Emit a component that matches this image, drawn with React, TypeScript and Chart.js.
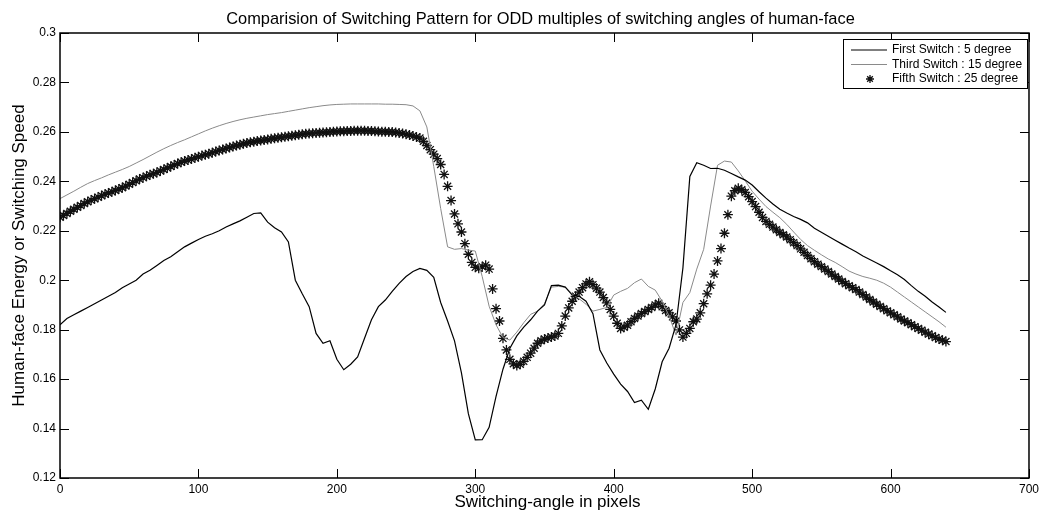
import React, { useEffect, useRef } from "react";
import { Chart, registerables } from "chart.js";

Chart.register(...registerables);

const TITLE = "Comparision of Switching Pattern for ODD multiples of switching angles of human-face";
const X_TITLE = "Switching-angle in pixels";
const Y_TITLE = "Human-face Energy or Switching Speed";
const LEGEND_LABELS = ["First Switch : 5 degree", "Third Switch : 15 degree", "Fifth Switch : 25 degree"];

const XS = [
  0, 5, 10, 15, 20, 25, 30, 35, 40, 45, 50, 55, 60, 65, 70, 75, 80, 85, 90, 95,
  100, 105, 110, 115, 120, 125, 130, 135, 140, 145, 150, 155, 160, 165, 170, 175, 180, 185, 190, 195,
  200, 205, 210, 215, 220, 225, 230, 235, 240, 245, 250, 255, 260, 265, 270, 275, 280, 285, 290, 295,
  300, 305, 310, 315, 320, 325, 330, 335, 340, 345, 350, 355, 360, 365, 370, 375, 380, 385, 390, 395,
  400, 405, 410, 415, 420, 425, 430, 435, 440, 445, 450, 455, 460, 465, 470, 475, 480, 485, 490, 495,
  500, 505, 510, 515, 520, 525, 530, 535, 540, 545, 550, 555, 560, 565, 570, 575, 580, 585, 590, 595,
  600, 605, 610, 615, 620, 625, 630, 635, 640,
];

const FIRST = [
  0.182, 0.1845, 0.186, 0.1875, 0.189, 0.1905, 0.192, 0.1935, 0.195, 0.197, 0.1985, 0.2, 0.2025, 0.204, 0.206, 0.208, 0.2095, 0.2115, 0.2135, 0.215,
  0.2165, 0.2178, 0.2188, 0.22, 0.2215, 0.2228, 0.224, 0.2255, 0.227, 0.2272, 0.2235, 0.2212, 0.2195, 0.2155, 0.2, 0.1945, 0.1893, 0.1785, 0.1745, 0.1755,
  0.168, 0.1638, 0.166, 0.169, 0.1765, 0.184, 0.1893, 0.192, 0.1955, 0.1987, 0.2015, 0.2035, 0.2048, 0.204, 0.2012, 0.191, 0.1835, 0.1755, 0.1625, 0.146,
  0.1354, 0.1355, 0.1405, 0.153, 0.164, 0.1725, 0.1775, 0.181, 0.184, 0.1875, 0.19, 0.1978, 0.198, 0.1972, 0.194, 0.1935, 0.1915, 0.1865, 0.1718, 0.1665,
  0.162, 0.158, 0.155, 0.1505, 0.1515, 0.1478, 0.156, 0.167, 0.1725, 0.182, 0.205, 0.242, 0.2475, 0.2465, 0.2452, 0.2453, 0.2445, 0.2432, 0.2418, 0.2405,
  0.2385, 0.2358, 0.2332, 0.2308, 0.2287, 0.2272, 0.2258, 0.2246, 0.2232, 0.221, 0.2194, 0.2178, 0.2162, 0.2146, 0.213, 0.2115, 0.2098, 0.2084, 0.207, 0.2055,
  0.2038, 0.2022, 0.2003, 0.1978, 0.1955, 0.1935, 0.1912, 0.1892, 0.187,
];

const THIRD = [
  0.233, 0.2345, 0.236, 0.2376, 0.2391, 0.2403, 0.2414, 0.2426, 0.2437, 0.2448, 0.246, 0.2474, 0.2488, 0.2503, 0.2518, 0.2532, 0.2545, 0.2557, 0.2568, 0.258,
  0.2592, 0.2604, 0.2615, 0.2625, 0.2634, 0.2642, 0.2649, 0.2655, 0.266, 0.2665, 0.267, 0.2674, 0.2678, 0.2683, 0.2688, 0.2693, 0.2698, 0.2702, 0.2706, 0.2709,
  0.2711, 0.2712, 0.2713, 0.2713, 0.2713, 0.2713, 0.2713, 0.2712, 0.2712, 0.2711, 0.271, 0.2705, 0.2685, 0.262, 0.246, 0.229, 0.2135, 0.2125, 0.2128, 0.2122,
  0.2118, 0.2015, 0.1895, 0.182, 0.1768, 0.1758, 0.179, 0.1828, 0.1862, 0.1875, 0.1905, 0.1972, 0.1975, 0.1972, 0.1945, 0.1925, 0.1903, 0.1875, 0.1882, 0.189,
  0.194, 0.1955, 0.1967, 0.199, 0.2005, 0.1975, 0.196, 0.1915, 0.1855, 0.1778, 0.191, 0.195, 0.2045, 0.2125, 0.23, 0.2465, 0.2482, 0.2478, 0.2442, 0.2402,
  0.236, 0.2328, 0.2298, 0.2275, 0.2253, 0.2226, 0.2195, 0.2165, 0.214, 0.2121, 0.2103, 0.2086, 0.2072, 0.2055, 0.2037, 0.2025, 0.2015, 0.2008, 0.2, 0.1988,
  0.1972, 0.1952, 0.1932, 0.1912, 0.1892, 0.1872, 0.1852, 0.1832, 0.181,
];

const X5 = [
  0, 2.5, 5, 7.5, 10, 12.5, 15, 17.5, 20, 22.5, 25, 27.5, 30, 32.5, 35, 37.5, 40, 42.5, 45, 47.5,
  50, 52.5, 55, 57.5, 60, 62.5, 65, 67.5, 70, 72.5, 75, 77.5, 80, 82.5, 85, 87.5, 90, 92.5, 95, 97.5,
  100, 102.5, 105, 107.5, 110, 112.5, 115, 117.5, 120, 122.5, 125, 127.5, 130, 132.5, 135, 137.5, 140, 142.5, 145, 147.5,
  150, 152.5, 155, 157.5, 160, 162.5, 165, 167.5, 170, 172.5, 175, 177.5, 180, 182.5, 185, 187.5, 190, 192.5, 195, 197.5,
  200, 202.5, 205, 207.5, 210, 212.5, 215, 217.5, 220, 222.5, 225, 227.5, 230, 232.5, 235, 237.5, 240, 242.5, 245, 247.5,
  250, 252.5, 255, 257.5, 260, 262.5, 265, 267.5, 270, 272.5, 275, 277.5, 280, 282.5, 285, 287.5, 290, 292.5, 295, 297.5,
  300, 302.5, 305, 307.5, 310, 312.5, 315, 317.5, 320, 322.5, 325, 327.5, 330, 332.5, 335, 337.5, 340, 342.5, 345, 347.5,
  350, 352.5, 355, 357.5, 360, 362.5, 365, 367.5, 370, 372.5, 375, 377.5, 380, 382.5, 385, 387.5, 390, 392.5, 395, 397.5,
  400, 402.5, 405, 407.5, 410, 412.5, 415, 417.5, 420, 422.5, 425, 427.5, 430, 432.5, 435, 437.5, 440, 442.5, 445, 447.5,
  450, 452.5, 455, 457.5, 460, 462.5, 465, 467.5, 470, 472.5, 475, 477.5, 480, 482.5, 485, 487.5, 490, 492.5, 495, 497.5,
  500, 502.5, 505, 507.5, 510, 512.5, 515, 517.5, 520, 522.5, 525, 527.5, 530, 532.5, 535, 537.5, 540, 542.5, 545, 547.5,
  550, 552.5, 555, 557.5, 560, 562.5, 565, 567.5, 570, 572.5, 575, 577.5, 580, 582.5, 585, 587.5, 590, 592.5, 595, 597.5,
  600, 602.5, 605, 607.5, 610, 612.5, 615, 617.5, 620, 622.5, 625, 627.5, 630, 632.5, 635, 637.5, 640,
];

const FIFTH = [
  0.2255, 0.2262, 0.227, 0.2279, 0.2287, 0.2295, 0.2302, 0.231, 0.2317, 0.2324, 0.233, 0.2336, 0.2342, 0.2348, 0.2353, 0.2358, 0.2363, 0.2369, 0.2374, 0.2381,
  0.2388, 0.2395, 0.2402, 0.2409, 0.2415, 0.2421, 0.2427, 0.2431, 0.2436, 0.2442, 0.2448, 0.2454, 0.246, 0.2466, 0.2472, 0.2477, 0.2482, 0.2486, 0.249, 0.2495,
  0.2499, 0.2504, 0.2508, 0.2512, 0.2516, 0.2521, 0.2525, 0.2529, 0.2533, 0.2537, 0.2541, 0.2545, 0.2548, 0.2552, 0.2555, 0.2558, 0.256, 0.2563, 0.2565, 0.2567,
  0.2569, 0.2572, 0.2574, 0.2576, 0.2578, 0.258, 0.2582, 0.2584, 0.2586, 0.2588, 0.259, 0.2592, 0.2593, 0.2595, 0.2596, 0.2597, 0.2598, 0.2599, 0.26, 0.2601,
  0.2602, 0.2603, 0.2603, 0.2604, 0.2604, 0.2605, 0.2605, 0.2605, 0.2605, 0.2604, 0.2604, 0.2603, 0.2602, 0.2601, 0.2601, 0.26, 0.26, 0.2598, 0.2596, 0.2593,
  0.259, 0.2587, 0.2583, 0.2579, 0.2575, 0.2562, 0.2545, 0.2528, 0.251, 0.2492, 0.2468, 0.2428, 0.238, 0.2322, 0.2268, 0.2228, 0.2195, 0.2148, 0.2105, 0.2072,
  0.2052, 0.2048, 0.2055, 0.2061, 0.2045, 0.1965, 0.1885, 0.1835, 0.1765, 0.1718, 0.168, 0.1662, 0.1655, 0.166, 0.1672, 0.1688, 0.1705, 0.1725, 0.1745, 0.1755,
  0.1762, 0.1766, 0.177, 0.1774, 0.1785, 0.1815, 0.1855, 0.1888, 0.1915, 0.1935, 0.1952, 0.197, 0.1985, 0.1994, 0.1982, 0.1968, 0.1952, 0.193, 0.1908, 0.1882,
  0.1855, 0.1826, 0.1805, 0.181, 0.1818, 0.1832, 0.1845, 0.1855, 0.1865, 0.1873, 0.1882, 0.189, 0.19, 0.1907, 0.1893, 0.1878, 0.1868, 0.1852, 0.1835, 0.1799,
  0.177, 0.1785, 0.1805, 0.1832, 0.1843, 0.1868, 0.1905, 0.1945, 0.198, 0.2025, 0.2078, 0.2128, 0.219, 0.2265, 0.234, 0.2362, 0.2372, 0.2366, 0.2355, 0.2338,
  0.2318, 0.2298, 0.2275, 0.2254, 0.2238, 0.2226, 0.2215, 0.2204, 0.2193, 0.2184, 0.2175, 0.2164, 0.2152, 0.214, 0.2127, 0.2113, 0.21, 0.2087, 0.2075, 0.2065,
  0.2055, 0.2045, 0.2035, 0.2025, 0.2015, 0.2005, 0.1995, 0.1986, 0.1978, 0.197, 0.1962, 0.1952, 0.1942, 0.1932, 0.1922, 0.1912, 0.1903, 0.1894, 0.1885, 0.1876,
  0.1868, 0.186, 0.1852, 0.1843, 0.1835, 0.1828, 0.182, 0.1812, 0.1805, 0.1798, 0.179, 0.1782, 0.1775, 0.1768, 0.1762, 0.1757, 0.1752,
];

const X_MIN = 0;
const X_MAX = 700;
const X_STEP = 100;
const Y_MIN = 0.12;
const Y_MAX = 0.3;
const Y_STEP = 0.02;

const FONT = "Arial, 'Liberation Sans', sans-serif";

const framePlugin = {
  id: "matlabFrame",
  afterDraw(chart: any) {
    const { ctx, chartArea } = chart;
    const { left, right, top, bottom } = chartArea;
    const xs = chart.scales.x;
    const ys = chart.scales.y;
    ctx.save();
    ctx.strokeStyle = "#000";
    ctx.lineWidth = 1.5;
    ctx.strokeRect(left, top, right - left, bottom - top);
    ctx.lineWidth = 1;
    const tl = 9;
    xs.ticks.forEach((t: any) => {
      const px = Math.round(xs.getPixelForValue(t.value)) + 0.5;
      ctx.beginPath();
      ctx.moveTo(px, bottom);
      ctx.lineTo(px, bottom - tl);
      ctx.moveTo(px, top);
      ctx.lineTo(px, top + tl);
      ctx.stroke();
    });
    ys.ticks.forEach((t: any) => {
      const py = Math.round(ys.getPixelForValue(t.value)) + 0.5;
      ctx.beginPath();
      ctx.moveTo(left, py);
      ctx.lineTo(left + tl, py);
      ctx.moveTo(right, py);
      ctx.lineTo(right - tl, py);
      ctx.stroke();
    });

    ctx.fillStyle = "#000";
    ctx.textAlign = "center";
    ctx.textBaseline = "alphabetic";
    ctx.font = `16.4px ${FONT}`;
    ctx.fillText(TITLE, (left + right) / 2 - 4, 24);
    ctx.font = `17px ${FONT}`;
    ctx.fillText(X_TITLE, (left + right) / 2 + 3, 507);
    ctx.save();
    ctx.translate(24, (top + bottom) / 2);
    ctx.rotate(-Math.PI / 2);
    ctx.fillText(Y_TITLE, 0, 0);
    ctx.restore();

    const lx = 843, ly = 39, lw = 184, lh = 49;
    ctx.fillStyle = "#fff";
    ctx.fillRect(lx, ly, lw, lh);
    ctx.strokeStyle = "#000";
    ctx.lineWidth = 1;
    ctx.strokeRect(lx + 0.5, ly + 0.5, lw, lh);
    const rows = [50, 64.5, 79];
    ctx.font = `12px ${FONT}`;
    ctx.textAlign = "left";
    ctx.textBaseline = "middle";
    const ds = chart.data.datasets;
    rows.forEach((ry, i) => {
      const d = ds[i];
      if (i < 2) {
        ctx.strokeStyle = d.borderColor;
        ctx.lineWidth = d.borderWidth;
        ctx.beginPath();
        ctx.moveTo(851, ry);
        ctx.lineTo(887, ry);
        ctx.stroke();
      } else {
        ctx.strokeStyle = d.pointBorderColor;
        ctx.lineWidth = 1.3;
        const cx = 870, r = 4;
        ctx.beginPath();
        ctx.moveTo(cx - r, ry);
        ctx.lineTo(cx + r, ry);
        ctx.moveTo(cx, ry - r);
        ctx.lineTo(cx, ry + r);
        const k = r * Math.SQRT1_2;
        ctx.moveTo(cx - k, ry - k);
        ctx.lineTo(cx + k, ry + k);
        ctx.moveTo(cx - k, ry + k);
        ctx.lineTo(cx + k, ry - k);
        ctx.stroke();
      }
      ctx.fillStyle = "#000";
      ctx.fillText(LEGEND_LABELS[i], 892, ry);
    });
    ctx.restore();
  },
};

export default function App() {
  const ref = useRef<HTMLCanvasElement | null>(null);
  useEffect(() => {
    if (!ref.current) return;
    const chart = new Chart(ref.current, {
      type: "line",
      data: {
        datasets: [
          {
            label: LEGEND_LABELS[0],
            data: XS.map((x, i) => ({ x, y: FIRST[i] })),
            borderColor: "#000000",
            borderWidth: 1.2,
            pointRadius: 0,
            tension: 0,
          },
          {
            label: LEGEND_LABELS[1],
            data: XS.map((x, i) => ({ x, y: THIRD[i] })),
            borderColor: "#8a8a8a",
            borderWidth: 1,
            pointRadius: 0,
            tension: 0,
          },
          {
            label: LEGEND_LABELS[2],
            data: X5.map((x, i) => ({ x, y: FIFTH[i] })),
            showLine: false,
            pointStyle: "star",
            pointRadius: 5,
            pointBorderColor: "#111111",
            pointBackgroundColor: "#111111",
            pointBorderWidth: 1.3,
            borderColor: "#111111",
          },
        ],
      },
      options: {
        responsive: false,
        animation: false,
        devicePixelRatio: 1,
        layout: { padding: { left: 0, right: 11, top: 33, bottom: 0 } },
        plugins: {
          legend: { display: false },
          title: { display: false },
          tooltip: { enabled: false },
        },
        scales: {
          x: {
            type: "linear",
            min: X_MIN,
            max: X_MAX,
            grid: { display: false, drawTicks: false },
            border: { display: false },
            ticks: {
              stepSize: X_STEP,
              color: "#000",
              padding: 4,
              maxRotation: 0,
              font: { family: FONT, size: 12 },
            },
            afterFit: (s: any) => {
              s.height = 32;
            },
          },
          y: {
            min: Y_MIN,
            max: Y_MAX,
            grid: { display: false, drawTicks: false },
            border: { display: false },
            ticks: {
              stepSize: Y_STEP,
              color: "#000",
              padding: 4,
              font: { family: FONT, size: 12 },
              callback: (v: any) => String(Number(Number(v).toFixed(2))),
            },
            afterFit: (s: any) => {
              s.width = 60;
            },
          },
        },
      },
      plugins: [framePlugin],
    });
    return () => chart.destroy();
  }, []);
  return (
    <div style={{ position: "absolute", left: 0, top: 0, width: 1043, height: 510, background: "#fff" }}>
      <canvas ref={ref} width={1043} height={510} style={{ width: 1043, height: 510, display: "block" }} />
    </div>
  );
}
